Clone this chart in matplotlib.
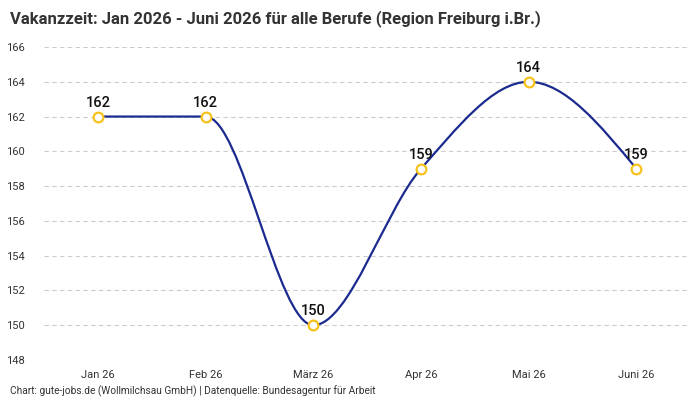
import matplotlib
matplotlib.use("Agg")
import matplotlib.pyplot as plt
from matplotlib.path import Path
from matplotlib.patches import PathPatch
import numpy as np

categories = ["Jan 26", "Feb 26", "März 26", "Apr 26", "Mai 26", "Juni 26"]
values = [162, 162, 150, 159, 164, 159]
yticks = [148, 150, 152, 154, 156, 158, 160, 162, 164, 166]

plt.rcParams['font.family'] = ['Roboto', 'DejaVu Sans']

LINE = "#1b2a8f"
GOLD = "#f7c21b"
TEXT = "#333333"

fig = plt.figure(figsize=(7, 4), dpi=100)
ax = fig.add_axes([0.063, 0.1, 0.923, 0.7825])

x = np.arange(len(values), dtype=float)
y = np.array(values, dtype=float)

# monotone cubic (d3 curveMonotoneX style) tangents
n = len(x)
t = np.zeros(n)
for i in range(1, n - 1):
    h0 = x[i] - x[i-1]; h1 = x[i+1] - x[i]
    s0 = (y[i] - y[i-1]) / h0; s1 = (y[i+1] - y[i]) / h1
    p = (s0 * h1 + s1 * h0) / (h0 + h1)
    t[i] = (np.sign(s0) + np.sign(s1)) * min(abs(s0), abs(s1), 0.5 * abs(p))
t[0] = (3 * (y[1] - y[0]) / (x[1] - x[0]) - t[1]) / 2
t[-1] = (3 * (y[-1] - y[-2]) / (x[-1] - x[-2]) - t[-2]) / 2

verts = [(x[0], y[0])]
codes = [Path.MOVETO]
for i in range(n - 1):
    h = (x[i+1] - x[i]) / 3
    verts += [(x[i] + h, y[i] + h * t[i]), (x[i+1] - h, y[i+1] - h * t[i+1]), (x[i+1], y[i+1])]
    codes += [Path.CURVE4] * 3
ax.add_patch(PathPatch(Path(verts, codes), facecolor="none", edgecolor=LINE, lw=1.6, zorder=3))

ax.plot(x, y, linestyle="none", marker="o", markersize=7, markerfacecolor="white",
        markeredgecolor=GOLD, markeredgewidth=1.6, zorder=4)

for xi, yi in zip(x, y):
    ax.annotate(f"{int(yi)}", (xi, yi), xytext=(0, 5), textcoords="offset points",
                ha="center", va="bottom", fontsize=10.5, fontweight="medium", color="#111111", zorder=5)

ax.set_xlim(-0.5, len(values) - 0.5)
ax.set_ylim(148, 166)
ax.set_yticks(yticks)
ax.set_xticks(x)
ax.set_xticklabels(categories)
ax.grid(axis="y", linestyle=(0, (4, 3)), color="#cccccc", lw=0.8)
ax.set_axisbelow(True)
for s in ax.spines.values():
    s.set_visible(False)
ax.tick_params(axis="both", length=0, labelsize=8, labelcolor=TEXT)
ax.tick_params(axis="y", pad=14)
ax.tick_params(axis="x", pad=7)

fig.text(0.014, 0.975, "Vakanzzeit: Jan 2026 - Juni 2026 für alle Berufe (Region Freiburg i.Br.)",
         ha="left", va="top", fontsize=12, fontweight="bold", color=TEXT)
fig.text(0.014, 0.008, "Chart: gute-jobs.de (Wollmilchsau GmbH) | Datenquelle: Bundesagentur für Arbeit",
         ha="left", va="bottom", fontsize=7.3, color=TEXT)

fig.savefig("out.png", dpi=100)
